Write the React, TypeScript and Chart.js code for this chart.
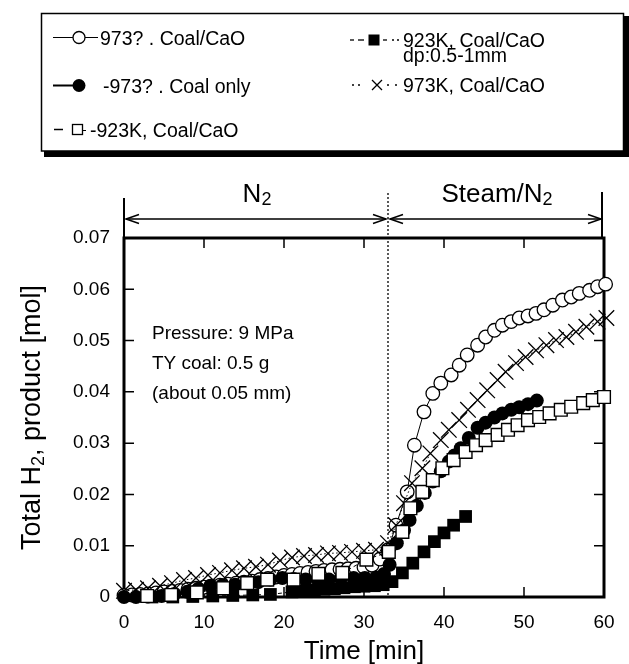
import React, { useEffect, useRef } from 'react';
import { Chart, registerables } from 'chart.js';

Chart.register(...registerables);

const FONT = "'Liberation Sans', Arial, Helvetica, sans-serif";

// Axis ticks
const xTicks = [0, 10, 20, 30, 40, 50, 60];
const yTicks = [0, 0.01, 0.02, 0.03, 0.04, 0.05, 0.06, 0.07];

// Texts
const legendLeft = ['973? . Coal/CaO', '-973? . Coal only', '-923K, Coal/CaO'];
const legendRight = ['923K, Coal/CaO', 'dp:0.5-1mm', '973K, Coal/CaO'];
const conditionLines = ['Pressure: 9 MPa', 'TY coal: 0.5 g', '(about 0.05 mm)'];
const switchTime = 33; // N2 -> Steam/N2 [min]

// 973 K, Coal/CaO (open circles)
const ocTime = [0, 1, 2, 3, 4, 5, 6, 7, 8, 9, 10, 11, 12, 13, 14, 15, 16, 17, 18, 19, 20, 21, 22, 23, 24, 25, 26, 27, 28, 29, 30, 31, 32, 33, 34,
  35.4, 36.3, 37.5, 38.6, 39.6, 40.9, 41.9, 42.9, 44.2, 45.2, 46.3, 47.3, 48.4, 49.4, 50.5, 51.5, 52.5, 53.6, 54.8, 55.9, 56.9, 58.2, 59.2, 60.2];
const ocH2 = [0.0003, 0.0004, 0.0005, 0.0006, 0.0008, 0.001, 0.0011, 0.0013, 0.0015, 0.0017, 0.0019, 0.0021, 0.0023, 0.0025, 0.0027, 0.0029, 0.0031, 0.0034, 0.0036, 0.0039, 0.0042, 0.0044, 0.0046, 0.0048, 0.005, 0.0052, 0.0053, 0.0054, 0.0055, 0.0056, 0.0058, 0.0062, 0.0074, 0.0092, 0.014,
  0.0205, 0.0296, 0.0361, 0.0397, 0.0417, 0.0433, 0.0452, 0.0472, 0.0491, 0.0507, 0.052, 0.053, 0.0537, 0.0544, 0.0548, 0.0553, 0.056, 0.0569, 0.0579, 0.0585, 0.0592, 0.0598, 0.0605, 0.061];

// 973 K, Coal only (filled circles)
const fcTime = [0, 1.5, 3, 4.7, 6.3, 7.9, 9.3, 10.8, 12.3, 13.9, 15.4, 16.8, 18.3, 19.8, 21.2, 22.7, 24.2, 25.6, 27.1, 28.7, 30.1, 31.5, 32.5, 33.2, 34.1,
  35.0, 35.7, 36.6, 37.6, 38.6, 39.6, 40.6, 41.3, 42.1, 43.1, 44.2, 45.2, 46.3, 47.3, 48.4, 49.4, 50.5, 51.6];
const fcH2 = [0, 0, 0.0001, 0.0002, 0.0006, 0.001, 0.0016, 0.0022, 0.0023, 0.0024, 0.0027, 0.0029, 0.0034, 0.0037, 0.0035, 0.0034, 0.0034, 0.0034, 0.0036, 0.0037, 0.0037, 0.0038, 0.0045, 0.0063, 0.0105,
  0.013, 0.015, 0.0178, 0.0203, 0.0225, 0.0245, 0.0264, 0.0276, 0.029, 0.031, 0.033, 0.034, 0.035, 0.0358, 0.0365, 0.037, 0.0376, 0.0383];

// 923 K, Coal/CaO (open squares)
const osTime = [2.9, 5.9, 9.1, 12.4, 15.4, 17.9, 21.2, 24.3, 27.3, 30.3, 33.1, 34.8, 35.8, 37.3, 38.6, 39.8, 41.2, 42.7, 44.0, 45.2, 46.7, 48.0, 49.2, 50.5, 51.9, 53.2, 54.6, 55.9, 57.4, 58.6, 60.0];
const osH2 = [0.0002, 0.0004, 0.0009, 0.0017, 0.0027, 0.0034, 0.0034, 0.0045, 0.0047, 0.0073, 0.0088, 0.0127, 0.0173, 0.0205, 0.0228, 0.0251, 0.0267, 0.0283, 0.0296, 0.0306, 0.0316, 0.0326, 0.0335, 0.0345, 0.0351, 0.0358, 0.0365, 0.0371, 0.0378, 0.0384, 0.039];

// 923 K, Coal/CaO, dp 0.5-1 mm (filled squares)
const fsTime = [3.5, 6.1, 8.6, 11.1, 13.6, 16.1, 18.3, 21.0, 22.5, 23.8, 25.0, 26.3, 27.5, 28.8, 30.0, 31.3, 32.4, 33.5, 34.8, 36.1, 37.5, 38.8, 40.0, 41.2, 42.7];
const fsH2 = [0, 0, 0.0001, 0.0002, 0.0003, 0.0004, 0.0005, 0.001, 0.0012, 0.0014, 0.0015, 0.0016, 0.0018, 0.002, 0.0021, 0.0022, 0.0024, 0.003, 0.0047, 0.0066, 0.0088, 0.0108, 0.0125, 0.014, 0.0157];

// 973 K, Coal/CaO (crosses)
const xmTime = [0, 1.5, 3, 4.5, 6, 7.5, 9, 10.5, 12, 13.5, 15, 16.5, 18, 19.5, 21, 22.5, 24, 25.5, 27, 28.5, 30, 31.5, 33, 34, 35, 36,
  37.3, 38.3, 39.6, 40.6, 41.9, 43, 44.2, 45.4, 46.7, 47.7, 49, 50.2, 51.5, 52.8, 54, 55.3, 56.5, 57.8, 59.2, 60.3];
const xmH2 = [0.0012, 0.0014, 0.0017, 0.0022, 0.0027, 0.0033, 0.0037, 0.0043, 0.0047, 0.0052, 0.0056, 0.0059, 0.0063, 0.0071, 0.0077, 0.008, 0.0082, 0.0085, 0.0086, 0.0088, 0.009, 0.0092, 0.0105, 0.014, 0.0183, 0.0222,
  0.0251, 0.028, 0.0306, 0.0326, 0.0345, 0.0365, 0.0384, 0.0403, 0.0423, 0.0439, 0.0456, 0.0468, 0.0481, 0.0491, 0.0501, 0.0507, 0.0517, 0.0527, 0.0537, 0.0544];

const pts = (t: number[], v: number[]) => t.map((x, i) => ({ x, y: v[i] }));

function font(size: number) {
  return `${size}px ${FONT}`;
}

function subText(ctx: CanvasRenderingContext2D, base: string, sub: string, rest: string, x: number, y: number, size: number, subSize: number, drop: number, align: 'left' | 'center') {
  ctx.textAlign = 'left';
  ctx.textBaseline = 'alphabetic';
  ctx.font = font(size);
  const w1 = ctx.measureText(base).width;
  const w3 = ctx.measureText(rest).width;
  ctx.font = font(subSize);
  const w2 = ctx.measureText(sub).width;
  const total = w1 + w2 + w3;
  const sx = align === 'center' ? x - total / 2 : x;
  ctx.font = font(size);
  ctx.fillText(base, sx, y);
  ctx.fillText(rest, sx + w1 + w2, y);
  ctx.font = font(subSize);
  ctx.fillText(sub, sx + w1, y + drop);
}

function arrowHead(ctx: CanvasRenderingContext2D, x: number, y: number, dir: number) {
  ctx.beginPath();
  ctx.moveTo(x - dir * 13, y - 4.5);
  ctx.lineTo(x, y);
  ctx.lineTo(x - dir * 13, y + 4.5);
  ctx.stroke();
}

function segs(ctx: CanvasRenderingContext2D, list: number[][], y: number, w: number) {
  ctx.lineWidth = w;
  list.forEach(([a, b]) => {
    ctx.beginPath();
    ctx.moveTo(a, y);
    ctx.lineTo(b, y);
    ctx.stroke();
  });
}

const decorPlugin = {
  id: 'decor',
  beforeDatasetsDraw(chart: any) {
    const ctx: CanvasRenderingContext2D = chart.ctx;
    const { left, right, top, bottom } = chart.chartArea;
    const xs = chart.scales.x;
    const ys = chart.scales.y;
    ctx.save();
    ctx.strokeStyle = '#000';
    ctx.fillStyle = '#000';
    // frame
    ctx.lineWidth = 3;
    ctx.strokeRect(left, top, right - left, bottom - top);
    // inward ticks
    ctx.lineWidth = 1.5;
    yTicks.slice(1, -1).forEach((v) => {
      const py = ys.getPixelForValue(v);
      ctx.beginPath();
      ctx.moveTo(left, py); ctx.lineTo(left + 10, py);
      ctx.moveTo(right, py); ctx.lineTo(right - 10, py);
      ctx.stroke();
    });
    xTicks.slice(1, -1).forEach((v) => {
      const px = xs.getPixelForValue(v);
      ctx.beginPath();
      ctx.moveTo(px, top); ctx.lineTo(px, top + 10);
      ctx.moveTo(px, bottom); ctx.lineTo(px, bottom - 10);
      ctx.stroke();
    });
    // switch line
    const sx = xs.getPixelForValue(switchTime);
    ctx.setLineDash([2, 2]);
    ctx.lineWidth = 1.3;
    ctx.beginPath();
    ctx.moveTo(sx, 193); ctx.lineTo(sx, bottom);
    ctx.stroke();
    ctx.setLineDash([]);
    // period arrows
    const ay = 219;
    ctx.lineWidth = 1.5;
    ctx.beginPath();
    ctx.moveTo(left + 2, ay); ctx.lineTo(sx - 2, ay);
    ctx.moveTo(sx + 2, ay); ctx.lineTo(right - 3, ay);
    ctx.stroke();
    arrowHead(ctx, left + 2, ay, -1);
    arrowHead(ctx, sx - 2, ay, 1);
    arrowHead(ctx, sx + 2, ay, -1);
    arrowHead(ctx, right - 3, ay, 1);
    ctx.lineWidth = 2;
    ctx.beginPath();
    ctx.moveTo(left, 198); ctx.lineTo(left, top);
    ctx.moveTo(right - 2, 192); ctx.lineTo(right - 2, top);
    ctx.stroke();
    subText(ctx, 'N', '2', '', (left + sx) / 2 + 1, 201.5, 26, 18, 3.5, 'center');
    subText(ctx, 'Steam/N', '2', '', (sx + right) / 2 + 1, 201.5, 26, 18, 3.5, 'center');
    // conditions
    ctx.font = font(19);
    ctx.textAlign = 'left';
    ctx.textBaseline = 'alphabetic';
    conditionLines.forEach((s, i) => ctx.fillText(s, 152, 338.5 + i * 30));
    // axis titles
    ctx.font = font(26);
    ctx.textAlign = 'center';
    ctx.fillText('Time [min]', (left + right) / 2, 659);
    ctx.save();
    ctx.translate(40, (top + bottom) / 2);
    ctx.rotate(-Math.PI / 2);
    subText(ctx, 'Total H', '2', ', product [mol]', 0, 0, 27, 18, 4, 'center');
    ctx.restore();
    ctx.restore();
  },
  afterDraw(chart: any) {
    const ctx: CanvasRenderingContext2D = chart.ctx;
    ctx.save();
    ctx.strokeStyle = '#000';
    ctx.fillStyle = '#000';
    // legend shadow and box
    ctx.fillRect(44, 151, 585, 6);
    ctx.fillRect(623, 16, 6, 141);
    ctx.fillStyle = '#fff';
    ctx.fillRect(41.5, 13.5, 582, 137.5);
    ctx.fillStyle = '#000';
    ctx.lineWidth = 1.5;
    ctx.strokeRect(41.5, 13.5, 582, 137.5);

    // left column symbols
    const r1 = 37.5, r2 = 85.5, r3 = 129.5;
    segs(ctx, [[53, 73], [85, 98]], r1, 1);
    ctx.lineWidth = 1.3;
    ctx.beginPath(); ctx.arc(79, r1, 6, 0, Math.PI * 2);
    ctx.fillStyle = '#fff'; ctx.fill(); ctx.stroke();
    ctx.fillStyle = '#000';
    segs(ctx, [[53, 73]], r2, 2);
    ctx.beginPath(); ctx.arc(79, r2, 6.5, 0, Math.PI * 2); ctx.fill();
    segs(ctx, [[54, 63]], r3, 1.5);
    ctx.lineWidth = 1.3;
    ctx.strokeRect(72.5, r3 - 5, 10, 10);
    segs(ctx, [[83, 86]], r3 + 1, 1);

    // right column symbols
    const q1 = 40, q2 = 85;
    segs(ctx, [[350, 354], [358, 364], [383, 387], [392, 394], [397, 399]], q1, 1.3);
    ctx.fillRect(368.5, q1 - 5.5, 11, 11);
    segs(ctx, [[352, 354], [358, 360], [387, 389], [395, 397]], q2, 1.3);
    ctx.lineWidth = 1.3;
    ctx.beginPath();
    ctx.moveTo(372, q2 - 5); ctx.lineTo(382, q2 + 5);
    ctx.moveTo(382, q2 - 5); ctx.lineTo(372, q2 + 5);
    ctx.stroke();

    // legend texts
    ctx.font = font(19.5);
    ctx.textAlign = 'left';
    ctx.textBaseline = 'alphabetic';
    ctx.fillText(legendLeft[0], 100, r1 + 7);
    ctx.fillText(legendLeft[1], 103, r2 + 7);
    ctx.fillText(legendLeft[2], 90, r3 + 7);
    ctx.fillText(legendRight[0], 403, q1 + 7);
    ctx.fillText(legendRight[1], 403, q1 + 22);
    ctx.fillText(legendRight[2], 403, q2 + 7);
    ctx.restore();
  },
};

export default function App() {
  const ref = useRef<HTMLCanvasElement | null>(null);
  useEffect(() => {
    if (!ref.current) return;
    const common = { borderColor: '#000', showLine: true, clip: false as any, pointBorderColor: '#000' };
    const chart = new Chart(ref.current, {
      type: 'scatter',
      data: {
        datasets: [
          { ...common, label: '923K, Coal/CaO', data: pts(osTime, osH2), borderWidth: 1, borderDash: [4, 3], pointStyle: 'rect', pointRadius: 9, pointBackgroundColor: '#fff', pointBorderWidth: 1.4, order: 1 },
          { ...common, label: '973K, Coal/CaO (x)', data: pts(xmTime, xmH2), borderWidth: 1, borderDash: [1.5, 2.5], pointStyle: 'crossRot', pointRadius: 11, pointBorderWidth: 1.3, order: 2 },
          { ...common, label: '923K, Coal/CaO dp:0.5-1mm', data: pts(fsTime, fsH2), borderWidth: 1, borderDash: [4, 3], pointStyle: 'rect', pointRadius: 9, pointBackgroundColor: '#000', pointBorderWidth: 0, order: 3 },
          { ...common, label: '973K, Coal only', data: pts(fcTime, fcH2), borderWidth: 1, pointStyle: 'circle', pointRadius: 7, pointBackgroundColor: '#000', pointBorderWidth: 0, order: 4 },
          { ...common, label: '973K, Coal/CaO', data: pts(ocTime, ocH2), borderWidth: 1, pointStyle: 'circle', pointRadius: 6.8, pointBackgroundColor: '#fff', pointBorderWidth: 1.3, order: 5 },
        ],
      },
      options: {
        responsive: false,
        animation: false,
        devicePixelRatio: 1,
        layout: { padding: { top: 238, right: 25, left: 0, bottom: 0 } },
        plugins: { legend: { display: false }, tooltip: { enabled: false }, title: { display: false } },
        elements: { line: { tension: 0 } },
        scales: {
          x: {
            type: 'linear',
            min: 0,
            max: 60,
            afterBuildTicks: (s: any) => { s.ticks = xTicks.map((value) => ({ value })); },
            afterFit: (s: any) => { s.height = 67; },
            grid: { display: false, drawTicks: false },
            border: { display: false },
            ticks: { color: '#000', font: { family: FONT, size: 19 }, padding: 14, maxRotation: 0, callback: (v: any) => String(v) },
          },
          y: {
            type: 'linear',
            min: 0,
            max: 0.07,
            afterBuildTicks: (s: any) => { s.ticks = yTicks.map((value) => ({ value })); },
            afterFit: (s: any) => { s.width = 124; },
            grid: { display: false, drawTicks: false },
            border: { display: false },
            ticks: { color: '#000', font: { family: FONT, size: 19 }, padding: 14, callback: (v: any) => (v === 0 ? '0' : Number(v).toFixed(2)) },
          },
        },
      },
      plugins: [decorPlugin],
    });
    return () => chart.destroy();
  }, []);
  return (
    <div style={{ position: 'absolute', left: 0, top: 0, width: 629, height: 664, background: '#fff' }}>
      <canvas ref={ref} width={629} height={664} style={{ display: 'block' }} />
    </div>
  );
}
